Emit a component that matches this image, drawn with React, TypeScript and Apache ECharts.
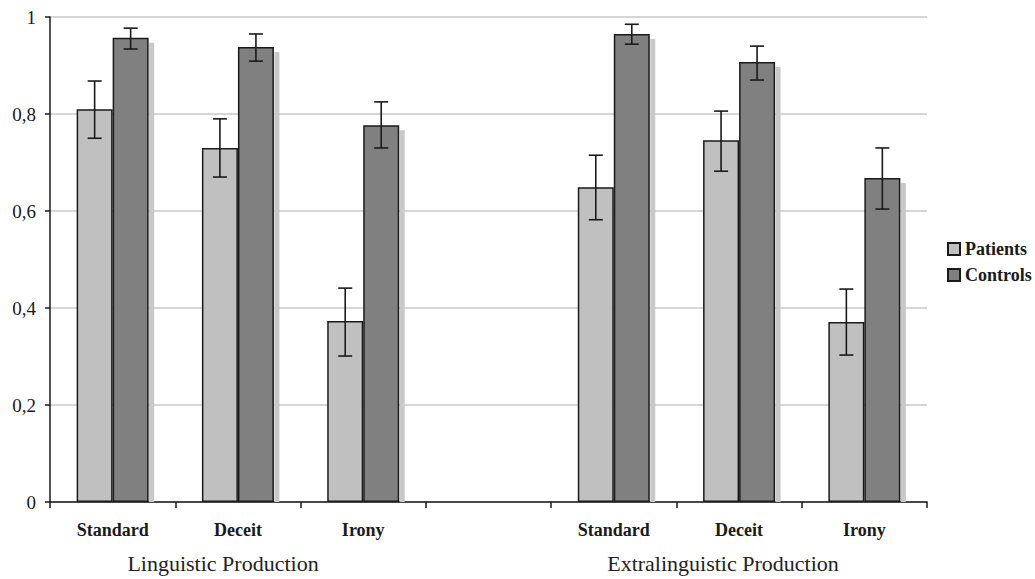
import React, { useEffect, useRef } from "react";
import * as echarts from "echarts";

const categories = ["Standard", "Deceit", "Irony", "", "Standard", "Deceit", "Irony"];
const groupLabels = ["Linguistic Production", "Extralinguistic Production"];
const seriesNames = ["Patients", "Controls"];
const patients = [0.81, 0.73, 0.373, null, 0.649, 0.746, 0.371];
const controls = [0.957, 0.938, 0.777, null, 0.965, 0.907, 0.668];
const patientsLow = [0.75, 0.67, 0.301, null, 0.582, 0.682, 0.303];
const patientsHigh = [0.868, 0.79, 0.441, null, 0.715, 0.806, 0.439];
const controlsLow = [0.934, 0.909, 0.73, null, 0.944, 0.87, 0.604];
const controlsHigh = [0.977, 0.965, 0.825, null, 0.985, 0.94, 0.73];
const yTicks = [0, 0.2, 0.4, 0.6, 0.8, 1];

const FONT = "'Liberation Serif', 'DejaVu Serif', serif";
const BAR_W = 36;

function errData(low: (number | null)[], high: (number | null)[]) {
  const out: number[][] = [];
  low.forEach((l, i) => {
    const h = high[i];
    if (l != null && h != null) out.push([i, l, h]);
  });
  return out;
}

function makeErrRender(offset: number) {
  return (params: any, api: any) => {
    const i = api.value(0);
    const lo = api.coord([i, api.value(1)]);
    const hi = api.coord([i, api.value(2)]);
    const x = lo[0] + offset;
    const cap = 7;
    const style = { stroke: "#1a1a1a", lineWidth: 1.6 };
    return {
      type: "group",
      children: [
        { type: "line", shape: { x1: x, y1: lo[1], x2: x, y2: hi[1] }, style },
        { type: "line", shape: { x1: x - cap, y1: lo[1], x2: x + cap, y2: lo[1] }, style },
        { type: "line", shape: { x1: x - cap, y1: hi[1], x2: x + cap, y2: hi[1] }, style },
      ],
    };
  };
}

export default function App() {
  const ref = useRef<HTMLDivElement>(null);
  useEffect(() => {
    if (!ref.current) return;
    const chart = echarts.init(ref.current, undefined, { renderer: "svg" });
    const shadowData: number[][] = [];
    controls.forEach((v, i) => {
      if (v != null) shadowData.push([i, v]);
    });
    chart.setOption({
      animation: false,
      backgroundColor: "#ffffff",
      grid: { left: 50, right: 108, top: 17, bottom: 77, containLabel: false },
      legend: {
        data: seriesNames,
        orient: "vertical",
        left: 947,
        top: 240,
        padding: 0,
        itemWidth: 12,
        itemHeight: 12,
        itemGap: 8,
        icon: "rect",
        textStyle: { fontFamily: FONT, fontWeight: "bold", fontSize: 18, color: "#1a1a1a" },
      },
      xAxis: {
        type: "category",
        data: categories,
        axisLine: { lineStyle: { color: "#1a1a1a", width: 1.5 } },
        axisTick: { show: true, length: 6, alignWithLabel: false, lineStyle: { color: "#1a1a1a", width: 1.5 } },
        axisLabel: {
          interval: 0,
          margin: 19,
          fontFamily: FONT,
          fontWeight: "bold",
          fontSize: 18,
          color: "#1a1a1a",
        },
        splitLine: { show: false },
      },
      yAxis: {
        type: "value",
        min: 0,
        max: 1,
        interval: 0.2,
        axisLine: { show: true, lineStyle: { color: "#1a1a1a", width: 1.5 } },
        axisTick: { show: true, length: 5, lineStyle: { color: "#1a1a1a", width: 1.5 } },
        axisLabel: {
          margin: 14,
          fontFamily: FONT,
          fontSize: 19,
          color: "#1a1a1a",
          formatter: (v: number) => {
            const t = yTicks.find((y) => Math.abs(y - v) < 1e-6);
            return String(t ?? v).replace(".", ",");
          },
        },
        splitLine: { show: true, lineStyle: { color: "#c8c8c8", width: 1.5 } },
      },
      graphic: [
        {
          type: "text",
          x: 223,
          y: 563,
          style: { text: groupLabels[0], font: `22px ${FONT}`, fill: "#222", textAlign: "center", textVerticalAlign: "middle" },
        },
        {
          type: "text",
          x: 723,
          y: 563,
          style: { text: groupLabels[1], font: `22px ${FONT}`, fill: "#222", textAlign: "center", textVerticalAlign: "middle" },
        },
      ],
      series: [
        {
          type: "custom",
          name: "shadow",
          z: 1,
          silent: true,
          data: shadowData,
          encode: { x: 0, y: 1 },
          renderItem: (params: any, api: any) => {
            const i = api.value(0);
            const top = api.coord([i, api.value(1)]);
            const bot = api.coord([i, 0]);
            return {
              type: "rect",
              shape: { x: top[0] + BAR_W + 0.5, y: top[1] + 5, width: 5, height: bot[1] - top[1] - 5 },
              style: { fill: "#c8c8c8" },
            };
          },
        },
        {
          type: "bar",
          name: seriesNames[0],
          z: 2,
          data: patients.map((v) => (v == null ? "-" : v)),
          barWidth: BAR_W,
          barGap: "0%",
          itemStyle: { color: "#c0c0c0", borderColor: "#1a1a1a", borderWidth: 1.5 },
        },
        {
          type: "bar",
          name: seriesNames[1],
          z: 2,
          data: controls.map((v) => (v == null ? "-" : v)),
          barWidth: BAR_W,
          barGap: "0%",
          itemStyle: { color: "#808080", borderColor: "#1a1a1a", borderWidth: 1.5 },
        },
        {
          type: "custom",
          name: "errP",
          z: 3,
          silent: true,
          data: errData(patientsLow, patientsHigh),
          encode: { x: 0, y: [1, 2] },
          renderItem: makeErrRender(-BAR_W / 2),
        },
        {
          type: "custom",
          name: "errC",
          z: 3,
          silent: true,
          data: errData(controlsLow, controlsHigh),
          encode: { x: 0, y: [1, 2] },
          renderItem: makeErrRender(BAR_W / 2),
        },
      ],
    });
    return () => chart.dispose();
  }, []);
  return (
    <div
      ref={ref}
      style={{ position: "fixed", left: 0, top: 0, width: 1035, height: 579, background: "#fff" }}
    />
  );
}
